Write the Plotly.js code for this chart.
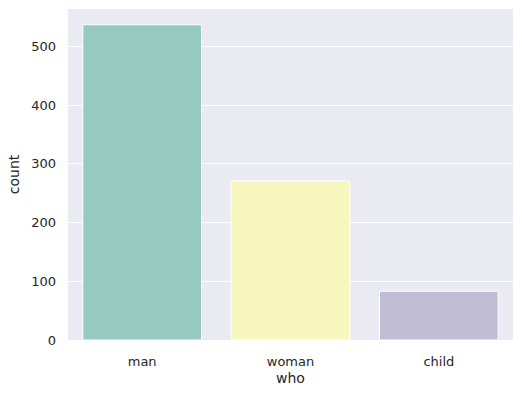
<!DOCTYPE html>
<html><head><meta charset="utf-8">
<script src="https://cdn.plot.ly/plotly-3.0.1.min.js"></script>
<style>body{margin:0;padding:0;background:#fff}</style>
</head><body>
<div id="chart" style="width:522px;height:396px"></div>
<script>
const categories = ["man", "woman", "child"];
const counts = [537, 271, 83];
const barColors = ["#96cac1", "#f6f6bd", "#c1bdd6"];

const trace = {
  type: "bar",
  x: categories,
  y: counts,
  width: 0.8,
  marker: {color: barColors, line: {color: "#ffffff", width: 1}},
  hoverinfo: "x+y"
};
const layout = {
  width: 522, height: 396,
  margin: {l: 68, r: 9, t: 9, b: 56},
  paper_bgcolor: "#ffffff",
  plot_bgcolor: "#eaeaf2",
  font: {family: "DejaVu Sans", size: 13, color: "#262626"},
  showlegend: false,
  bargap: 0.2,
  xaxis: {
    title: {text: "who", font: {family: "DejaVu Sans", size: 14, color: "#262626"}, standoff: 5},
    showgrid: false, zeroline: false, showline: false,
    ticks: "", ticklabelstandoff: 12,
    tickfont: {family: "DejaVu Sans", size: 13, color: "#262626"},
    range: [-0.5, 2.5]
  },
  yaxis: {
    title: {text: "count", font: {family: "DejaVu Sans", size: 14, color: "#262626"}, standoff: 8},
    range: [0, 563.85],
    tickvals: [0, 100, 200, 300, 400, 500],
    showgrid: true, gridcolor: "#ffffff", gridwidth: 1,
    zeroline: false, showline: false,
    ticks: "", ticklabelstandoff: 11,
    tickfont: {family: "DejaVu Sans", size: 13, color: "#262626"}
  }
};
Plotly.newPlot("chart", [trace], layout, {displayModeBar: false, staticPlot: true});
</script>
</body></html>
